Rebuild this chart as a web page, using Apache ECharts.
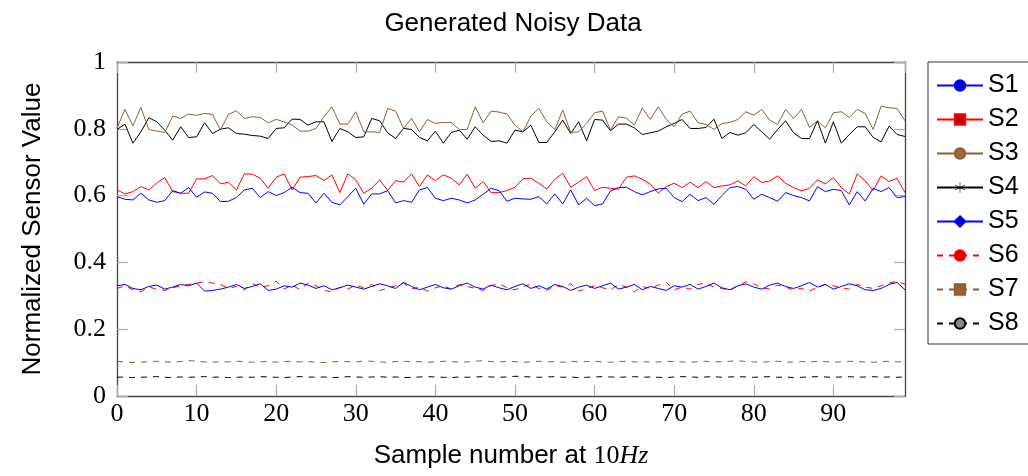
<!DOCTYPE html>
<html>
<head>
<meta charset="utf-8">
<script src="https://cdn.jsdelivr.net/npm/echarts@6/dist/echarts.min.js"></script>
<style>html,body{margin:0;padding:0;background:#fff}#c{width:1028px;height:476px}</style>
</head>
<body>
<div id="c"></div>
<script>
const seriesNames = ['S1','S2','S3','S4','S5','S6','S7','S8'];
const samples = Array.from({length: 100}, (_, i) => i);
const yTicks = [0, 0.2, 0.4, 0.6, 0.8, 1];
const xTicks = [0, 10, 20, 30, 40, 50, 60, 70, 80, 90];

const s1 = [0.597,0.589,0.587,0.607,0.587,0.580,0.585,0.615,0.607,0.624,0.595,0.611,0.607,0.582,0.583,0.594,0.617,0.622,0.594,0.612,0.600,0.609,0.625,0.609,0.607,0.578,0.607,0.580,0.572,0.597,0.622,0.574,0.605,0.605,
0.615,0.578,0.585,0.580,0.617,0.624,0.592,0.585,0.592,0.587,0.578,0.587,0.604,0.622,0.615,0.583,0.592,0.590,0.589,0.597,0.575,0.605,0.575,0.617,0.572,0.592,0.570,0.575,0.614,0.624,0.625,0.612,0.602,
0.612,0.620,0.622,0.594,0.582,0.604,0.585,0.594,0.574,0.600,0.624,0.627,0.619,0.589,0.604,0.594,0.583,0.609,0.600,0.594,0.584,0.627,0.612,0.619,0.615,0.572,0.612,0.584,0.622,0.612,0.624,0.594,0.597];

const s2 = [0.617,0.605,0.612,0.627,0.617,0.637,0.654,0.612,0.607,0.607,0.650,0.650,0.660,0.635,0.640,0.617,0.665,0.664,0.652,0.622,0.655,0.665,0.617,0.655,0.657,0.660,0.645,0.662,0.609,0.665,0.647,0.607,0.622,0.647,
0.615,0.645,0.640,0.665,0.627,0.662,0.645,0.662,0.652,0.632,0.664,0.622,0.642,0.609,0.609,0.615,0.625,0.650,0.652,0.637,0.620,0.649,0.667,0.625,0.640,0.657,0.615,0.625,0.622,0.619,0.655,0.659,0.649,
0.635,0.607,0.627,0.637,0.624,0.640,0.624,0.642,0.624,0.629,0.632,0.644,0.629,0.657,0.639,0.644,0.659,0.637,0.624,0.614,0.622,0.647,0.635,0.654,0.624,0.605,0.665,0.644,0.615,0.659,0.642,0.652,0.609];

const s3 = [0.802,0.858,0.809,0.864,0.798,0.793,0.789,0.838,0.831,0.844,0.840,0.846,0.843,0.796,0.843,0.854,0.831,0.836,0.834,0.818,0.828,0.821,0.811,0.793,0.793,0.801,0.836,0.866,0.814,0.814,0.851,0.791,0.791,0.789,
0.861,0.853,0.801,0.831,0.791,0.828,0.816,0.819,0.819,0.798,0.798,0.866,0.818,0.853,0.850,0.844,0.811,0.791,0.838,0.861,0.821,0.798,0.856,0.789,0.791,0.816,0.848,0.853,0.796,0.836,0.832,0.811,0.862,
0.828,0.866,0.828,0.806,0.844,0.853,0.818,0.813,0.798,0.816,0.819,0.828,0.851,0.841,0.858,0.826,0.813,0.858,0.831,0.858,0.804,0.824,0.803,0.848,0.851,0.834,0.858,0.846,0.798,0.868,0.863,0.861,0.824];

const s4 = [0.798,0.814,0.757,0.791,0.833,0.821,0.796,0.766,0.806,0.774,0.776,0.818,0.786,0.799,0.803,0.786,0.784,0.780,0.778,0.771,0.801,0.803,0.829,0.828,0.811,0.821,0.821,0.762,0.801,0.791,0.774,0.776,0.831,0.824,
0.788,0.771,0.801,0.798,0.774,0.764,0.793,0.757,0.789,0.796,0.769,0.806,0.781,0.762,0.764,0.757,0.796,0.791,0.811,0.759,0.759,0.791,0.826,0.786,0.821,0.764,0.828,0.826,0.794,0.814,0.814,0.803,0.783,
0.788,0.793,0.806,0.816,0.828,0.801,0.801,0.804,0.829,0.771,0.789,0.781,0.788,0.813,0.791,0.769,0.798,0.824,0.788,0.771,0.771,0.824,0.757,0.821,0.757,0.783,0.806,0.806,0.774,0.761,0.808,0.783,0.777];

const s5 = [0.330,0.334,0.322,0.318,0.328,0.332,0.320,0.326,0.334,0.330,0.338,0.314,0.316,0.320,0.326,0.334,0.322,0.328,0.336,0.316,0.320,0.330,0.326,0.338,0.332,0.322,0.330,0.318,0.324,0.332,0.326,0.320,0.328,0.336,0.330,0.322,0.340,0.328,0.318,0.326,0.334,0.324,0.320,0.330,0.338,0.326,0.320,0.332,0.324,0.318,0.328,0.336,0.322,0.330,0.320,0.334,0.328,0.316,0.326,0.332,0.322,0.330,0.338,0.320,0.326,0.334,0.318,0.328,0.322,0.316,0.330,0.326,0.334,0.320,0.328,0.338,0.324,0.318,0.330,0.336,0.326,0.320,0.332,0.338,0.328,0.322,0.330,0.340,0.326,0.334,0.320,0.328,0.336,0.330,0.318,0.316,0.322,0.334,0.340,0.318];

const s6 = [0.322,0.330,0.318,0.312,0.326,0.320,0.316,0.324,0.330,0.334,0.338,0.342,0.338,0.334,0.322,0.328,0.318,0.336,0.326,0.330,0.344,0.320,0.332,0.318,0.338,0.330,0.316,0.312,0.326,0.320,0.332,0.324,0.334,0.316,0.322,0.330,0.338,0.320,0.326,0.314,0.324,0.330,0.320,0.334,0.328,0.322,0.316,0.330,0.336,0.324,0.318,0.328,0.334,0.322,0.316,0.330,0.326,0.336,0.314,0.322,0.330,0.324,0.318,0.334,0.326,0.312,0.328,0.322,0.332,0.340,0.318,0.326,0.320,0.334,0.338,0.326,0.322,0.316,0.330,0.342,0.336,0.324,0.320,0.332,0.326,0.318,0.322,0.314,0.326,0.334,0.330,0.324,0.320,0.334,0.326,0.322,0.330,0.338,0.344,0.334];

const s7 = [0.104,0.102,0.100,0.101,0.103,0.104,0.102,0.101,0.103,0.106,0.104,0.102,0.101,0.103,0.102,0.104,0.103,0.101,0.102,0.104,0.101,0.103,0.104,0.102,0.103,0.101,0.100,0.102,0.104,0.103,0.102,0.105,0.104,0.102,0.101,0.103,0.104,0.102,0.103,0.101,0.102,0.104,0.103,0.101,0.102,0.104,0.106,0.103,0.102,0.104,0.103,0.101,0.102,0.104,0.102,0.103,0.101,0.104,0.102,0.103,0.104,0.102,0.101,0.103,0.104,0.102,0.103,0.101,0.102,0.104,0.103,0.102,0.101,0.103,0.104,0.102,0.103,0.104,0.106,0.103,0.102,0.101,0.103,0.104,0.102,0.101,0.103,0.102,0.104,0.103,0.101,0.102,0.104,0.103,0.102,0.101,0.103,0.104,0.102,0.103];

const s8 = [0.056,0.057,0.055,0.056,0.057,0.058,0.056,0.055,0.057,0.056,0.057,0.058,0.056,0.057,0.055,0.056,0.057,0.056,0.058,0.057,0.056,0.055,0.057,0.058,0.057,0.056,0.057,0.055,0.056,0.058,0.057,0.056,0.057,0.058,0.056,0.057,0.055,0.056,0.057,0.058,0.057,0.056,0.055,0.057,0.056,0.057,0.058,0.057,0.056,0.057,0.059,0.058,0.057,0.056,0.057,0.058,0.056,0.057,0.055,0.056,0.057,0.058,0.057,0.056,0.057,0.058,0.056,0.057,0.056,0.055,0.057,0.058,0.057,0.056,0.057,0.058,0.056,0.057,0.058,0.057,0.056,0.057,0.058,0.056,0.057,0.055,0.056,0.057,0.058,0.057,0.056,0.057,0.058,0.056,0.057,0.058,0.056,0.057,0.056,0.057];

const values = [s1, s2, s3, s4, s5, s6, s7, s8];

const asterisk = 'path://M-0.25,-5L0.25,-5L0.25,5L-0.25,5Z M4.21,2.72L4.46,2.28L-4.21,-2.72L-4.46,-2.28Z M-4.21,2.72L-4.46,2.28L4.21,-2.72L4.46,-2.28Z';
const styles = [
  {line:'#0000ff', fill:'#0000cc', symbol:'circle', type:'solid', bw:0.8},
  {line:'#ff0000', fill:'#cc0000', symbol:'rect', type:'solid', bw:0.8},
  {line:'#8f5f32', fill:'#9c6a3c', symbol:'circle', type:'solid', bw:0.8},
  {line:'#000000', fill:'#000000', symbol:asterisk, type:'solid', bw:0},
  {line:'#0000ff', fill:'#0000cc', symbol:'diamond', type:'solid', bw:0.8},
  {line:'#ff0000', fill:'#dd0000', symbol:'circle', type:[6,6], bw:0.8},
  {line:'#8f5f32', fill:'#9a6132', symbol:'rect', type:[6,6], bw:0.8},
  {line:'#000000', fill:'#888888', symbol:'circle', type:[6,6], bw:0.8}
];

const LX = 117, RX = 905, TY = 62, BY = 396;
const axisLineStyle = {color:'#444', width:1.3};
const tickStyle = {color:'#aaa', width:1.2};

const chart = echarts.init(document.getElementById('c'), null, {renderer:'canvas'});
chart.setOption({
  animation:false,
  backgroundColor:'#fff',
  title:{
    text:'Generated Noisy Data', left:508, top:6, textAlign:'center',
    textStyle:{fontFamily:'Liberation Sans', fontSize:26, fontWeight:'normal', color:'#000'}
  },
  legend:{
    orient:'vertical', left:928, top:62,
    padding:[11,40,8,8],
    borderColor:'#333', borderWidth:1,
    itemWidth:46, itemHeight:13, itemGap:9,
    textStyle:{fontFamily:'Liberation Sans', fontSize:25, color:'#000', padding:[0,0,0,0]},
    data: seriesNames
  },
  grid:{left:LX, right:1028-RX, top:TY, bottom:476-BY, containLabel:false},
  xAxis:[{
    type:'value', min:0, max:99, interval:10,
    name:'Sample number at {r|10}{i|Hz}', nameLocation:'middle', nameGap:47,
    nameTextStyle:{fontFamily:'Liberation Sans', fontSize:26, color:'#000',
      rich:{r:{fontFamily:'Liberation Serif', fontSize:26, color:'#000'}, i:{fontFamily:'Liberation Serif', fontStyle:'italic', fontSize:26, color:'#000'}}},
    axisLine:{show:true, onZero:false, lineStyle:axisLineStyle},
    axisTick:{show:true, inside:true, length:11, lineStyle:tickStyle},
    axisLabel:{show:true, showMaxLabel:false, margin:5, fontFamily:'Liberation Serif', fontSize:26, color:'#000',
      formatter:(v)=> xTicks.includes(v) ? String(v) : ''},
    splitLine:{show:false}
  },{
    type:'value', position:'top', min:0, max:99, interval:10,
    axisLine:{show:true, onZero:false, lineStyle:axisLineStyle},
    axisTick:{show:true, inside:true, length:11, lineStyle:tickStyle},
    axisLabel:{show:false}, splitLine:{show:false}
  }],
  yAxis:[{
    type:'value', min:0, max:1, interval:0.2,
    name:'Normalized Sensor Value', nameLocation:'middle', nameGap:71,
    nameTextStyle:{fontFamily:'Liberation Sans', fontSize:26, color:'#000'},
    axisLine:{show:true, onZero:false, lineStyle:axisLineStyle},
    axisTick:{show:true, inside:true, length:11, lineStyle:tickStyle},
    axisLabel:{margin:11, fontFamily:'Liberation Serif', fontSize:26, color:'#000',
      formatter:(v)=>{ const t = yTicks.find(y=>Math.abs(y-v)<1e-9); return t===undefined ? '' : String(t); }},
    splitLine:{show:false}
  },{
    type:'value', position:'right', min:0, max:1, interval:0.2,
    axisLine:{show:true, onZero:false, lineStyle:axisLineStyle},
    axisTick:{show:true, inside:true, length:11, lineStyle:tickStyle},
    axisLabel:{show:false}, splitLine:{show:false}
  }],
  series: seriesNames.map((name, k) => ({
    name, type:'line',
    xAxisIndex:0, yAxisIndex:0,
    data: samples.map((x, i) => [x, values[k][i]]),
    showSymbol:false, symbol: styles[k].symbol, symbolSize:11,
    lineStyle:{color:styles[k].line, width:1, type:styles[k].type},
    itemStyle:{color:styles[k].fill, borderColor:styles[k].line, borderWidth:styles[k].bw},
    emphasis:{disabled:true},
    z: 10 - k
  }))
});
</script>
</body>
</html>
